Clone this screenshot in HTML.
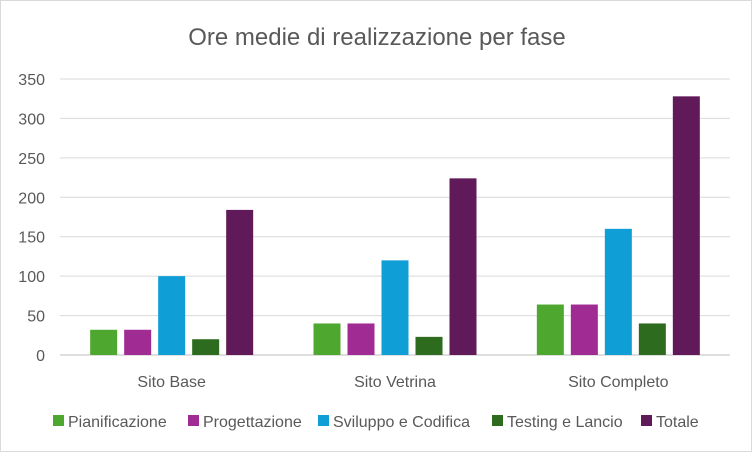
<!DOCTYPE html>
<html><head><meta charset="utf-8"><style>
body{margin:0;background:#fff;font-family:"Liberation Sans",sans-serif}
#c{width:752px;height:452px;position:relative;box-sizing:border-box;border:1px solid #d9d9d9;background:#fff}
</style></head><body>
<div id="c">
<svg id="s" width="750" height="450" xmlns="http://www.w3.org/2000/svg">
<text x="376" y="44" text-anchor="middle" font-size="24" fill="#595959" font-family="Liberation Sans, sans-serif">Ore medie di realizzazione per fase</text>
</svg>
</div>
<script>
const categories=["Sito Base","Sito Vetrina","Sito Completo"];
const seriesNames=["Pianificazione","Progettazione","Sviluppo e Codifica","Testing e Lancio","Totale"];
const pianificazione=[32,40,64];
const progettazione=[32,40,64];
const sviluppo=[100,120,160];
const testing=[20,23,40];
const totale=[184,224,328];
const yTicks=[0,50,100,150,200,250,300,350];
const colors=["#4EA72E","#A02B93","#0F9ED5","#2D6B1F","#611A59"];
const series=[pianificazione,progettazione,sviluppo,testing,totale];
const svg=document.getElementById('s');
const NS="http://www.w3.org/2000/svg";
const x0=59,x1=729,y0=354,yTop=78,yMax=350;
const y=v=>y0-(v/yMax)*(y0-yTop);
const catW=(x1-x0)/categories.length;
function mk(t,a){const e=document.createElementNS(NS,t);for(const k in a)e.setAttribute(k,a[k]);svg.appendChild(e);return e;}
yTicks.forEach(t=>{
 const l=mk('line',{x1:x0,x2:x1,y1:y(t),y2:y(t),stroke:t===0?'#bfbfbf':'#d9d9d9','stroke-width':1});
 
 
 const tx=mk('text',{x:44,y:y(t)+6,'text-anchor':'end','font-size':16,fill:'#595959'});
 tx.textContent=t;
 
 
});
const bw=27,step=34;
categories.forEach((c,i)=>{
 const gs=x0+i*catW+(catW-(step*4+bw))/2;
 series.forEach((s,j)=>{
  const r=mk('rect',{x:gs+j*step,y:y(s[i]),width:bw,height:y0-y(s[i]),fill:colors[j]});
  
  
 });
 const t=mk('text',{x:x0+i*catW+catW/2,y:386,'text-anchor':'middle','font-size':16,fill:'#595959'});
 t.textContent=c;
 
 
});
const lx=[52,187,317,491,640];
seriesNames.forEach((n,j)=>{
 const r=mk('rect',{x:lx[j],y:414,width:11,height:11,fill:colors[j]});
 
 
 const t=mk('text',{x:lx[j]+15,y:426,'font-size':16,fill:'#595959'});
 t.textContent=n;
 
 
});
</script>
</body></html>
